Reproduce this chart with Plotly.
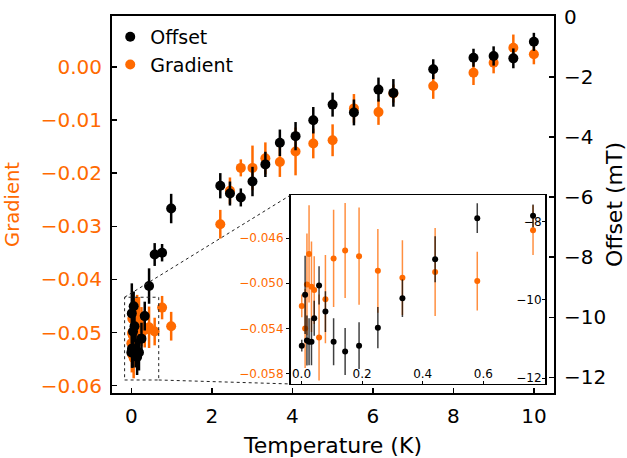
import plotly.graph_objects as go

# ---------------- data ----------------
temperature = [0.001, 0.012, 0.018, 0.025, 0.033, 0.042, 0.058, 0.079, 0.106, 0.144,
               0.190, 0.252, 0.333, 0.441, 0.580, 0.764, 0.99, 2.21, 2.45, 2.72,
               3.01, 3.33, 3.69, 4.08, 4.52, 5.00, 5.53, 6.14, 6.51, 7.50,
               8.50, 9.00, 9.49, 10.00]

offset = [-11.17, -9.87, -11.04, -11.07, -11.07, -10.47, -9.63, -10.30, -11.07, -11.32,
          -11.17, -10.71, -9.96, -8.96, -7.91, -7.85, -6.38, -5.62, -5.88, -6.01,
          -5.48, -4.91, -4.19, -3.97, -3.44, -2.92, -3.18, -2.42, -2.53, -1.74,
          -1.36, -1.30, -1.38, -0.83]

offset_err = [0.15, 1.0, 0.64, 0.6, 0.6, 0.45, 0.49, 0.52, 0.6, 0.6,
              0.6, 0.53, 0.48, 0.59, 0.38, 0.29, 0.49, 0.42, 0.4, 0.3,
              0.49, 0.42, 0.44, 0.47, 0.44, 0.4, 0.43, 0.4, 0.46, 0.33,
              0.3, 0.32, 0.33, 0.3]

gradient = [-0.0520, -0.0540, -0.0501, -0.0474, -0.0503, -0.0506, -0.0548, -0.0514, -0.0478, -0.0471,
            -0.0476, -0.0489, -0.0495, -0.0490, -0.0498, -0.0453, -0.0488, -0.0296, -0.0233, -0.0190,
            -0.0190, -0.0172, -0.0179, -0.0159, -0.0144, -0.0138, -0.0078, -0.0085, -0.0050, -0.0036,
            -0.0011, 0.0008, 0.0036, 0.0024]

gradient_err = [0.0010, 0.0035, 0.0045, 0.0043, 0.0040, 0.0030, 0.0038, 0.0039, 0.0043, 0.0042,
                0.0043, 0.0037, 0.0033, 0.0039, 0.0026, 0.0022, 0.0027, 0.0027, 0.0025, 0.0016,
                0.0042, 0.0030, 0.0028, 0.0045, 0.0028, 0.0030, 0.0027, 0.0024, 0.0017, 0.0024,
                0.0023, 0.0020, 0.0025, 0.0019]

x_ticks = [0, 2, 4, 6, 8, 10]
gradient_ticks = [0.0, -0.01, -0.02, -0.03, -0.04, -0.05, -0.06]
offset_ticks = [0, -2, -4, -6, -8, -10, -12]
inset_x_ticks = [0.0, 0.2, 0.4, 0.6]
inset_gradient_ticks = [-0.046, -0.050, -0.054, -0.058]
inset_offset_ticks = [-8, -10, -12]

# ---------------- style ----------------
ORANGE = "#FF6A00"
BLACK = "#000000"
FONT = "DejaVu Sans"

fig = go.Figure()

# main plot
fig.add_trace(go.Scatter(
    x=temperature, y=gradient, mode="markers", name="Gradient",
    marker=dict(color=ORANGE, size=10),
    error_y=dict(type="data", array=gradient_err, color=ORANGE, thickness=2.5, width=0),
    xaxis="x", yaxis="y", legendrank=2))
fig.add_trace(go.Scatter(
    x=temperature, y=offset, mode="markers", name="Offset",
    marker=dict(color=BLACK, size=10),
    error_y=dict(type="data", array=offset_err, color=BLACK, thickness=2.5, width=0),
    xaxis="x", yaxis="y2", legendrank=1))

# inset
fig.add_trace(go.Scatter(
    x=temperature, y=gradient, mode="markers", showlegend=False,
    marker=dict(color=ORANGE, size=6),
    error_y=dict(type="data", array=gradient_err, color="rgba(255,106,0,0.75)", thickness=1.5, width=0),
    xaxis="x2", yaxis="y3"))
fig.add_trace(go.Scatter(
    x=temperature, y=offset, mode="markers", showlegend=False,
    marker=dict(color=BLACK, size=6),
    error_y=dict(type="data", array=offset_err, color="rgba(0,0,0,0.75)", thickness=1.5, width=0),
    xaxis="x2", yaxis="y4"))

axis_common = dict(showgrid=False, zeroline=False, showline=True, linecolor=BLACK,
                   automargin=False, ticklabeloverflow="allow")

fig.update_layout(
    width=627, height=458,
    margin=dict(l=112, r=73, t=16, b=65, autoexpand=False),
    paper_bgcolor="white", plot_bgcolor="white",
    font=dict(family=FONT, color=BLACK),
    showlegend=True,
    legend=dict(x=-0.004, y=0.995, xanchor="left", yanchor="top", bgcolor="rgba(0,0,0,0)",
                font=dict(size=19, color=BLACK), tracegroupgap=0, itemwidth=30),
    xaxis=dict(**axis_common, domain=[0, 1], range=[-0.48, 10.5], linewidth=2, mirror=True,
               tickvals=x_ticks, ticks="inside", ticklen=5, tickwidth=1.5, tickcolor=BLACK,
               tickfont=dict(size=20, color=BLACK), ticklabelstandoff=4,
               title=dict(text="Temperature (K)", font=dict(size=22, color=BLACK), standoff=12),
               anchor="y"),
    yaxis=dict(**axis_common, range=[-0.06137, 0.00959], linewidth=2,
               tickvals=gradient_ticks, tickformat=".2f",
               ticks="inside", ticklen=5, tickwidth=1.5, tickcolor=BLACK,
               tickfont=dict(size=20, color=ORANGE), ticklabelstandoff=4,
               title=dict(text="Gradient", font=dict(size=19.5, color=ORANGE), standoff=16),
               anchor="x"),
    yaxis2=dict(**axis_common, range=[-12.52, 0.03], linewidth=2, overlaying="y", side="right",
                tickvals=offset_ticks, ticks="inside", ticklen=5, tickwidth=1.5, tickcolor=BLACK,
                tickfont=dict(size=20, color=BLACK), ticklabelstandoff=4,
                title=dict(text="Offset (mT)", font=dict(size=22, color=BLACK), standoff=1),
                anchor="x"),
    xaxis2=dict(**axis_common, domain=[0.404, 0.980], range=[-0.036, 0.804], linewidth=1.5, mirror=True,
                tickvals=inset_x_ticks, tickformat=".1f", ticks="inside", ticklen=3, tickwidth=1,
                tickcolor=BLACK, ticklabelposition="inside",
                tickfont=dict(size=12, color=BLACK), anchor="y3"),
    yaxis3=dict(**axis_common, domain=[0.024, 0.525], range=[-0.0589, -0.0422], linewidth=1.5,
                tickvals=inset_gradient_ticks, tickformat=".3f", ticks="outside", ticklen=3, tickwidth=1,
                tickcolor=BLACK, tickfont=dict(size=12, color=ORANGE), anchor="x2"),
    yaxis4=dict(**axis_common, domain=[0.024, 0.525], range=[-12.15, -7.32], linewidth=1.5,
                overlaying="y3", side="right", anchor="x2",
                tickvals=inset_offset_ticks, ticks="inside", ticklen=3, tickwidth=1,
                tickcolor=BLACK, ticklabelposition="inside",
                tickfont=dict(size=12, color=BLACK)),
)

# zoom indicator (dotted box and connector lines), paper coordinates
dot = dict(color="#222222", width=1, dash="dot")
fig.add_shape(type="rect", xref="paper", yref="paper", x0=0.0285, x1=0.1057, y0=0.0345, y1=0.254,
              line=dot, fillcolor="rgba(0,0,0,0)")
fig.add_shape(type="line", xref="paper", yref="paper", x0=0.0285, y0=0.254, x1=0.404, y1=0.525, line=dot)
fig.add_shape(type="line", xref="paper", yref="paper", x0=0.1057, y0=0.0345, x1=0.404, y1=0.024, line=dot)

# remove the page's default body margin so the 627x458 figure fills the window exactly
fig.write_html("out.html",
               config={"displayModeBar": False, "staticPlot": True},
               post_script="document.body.style.margin='0';document.body.style.overflow='hidden';")
